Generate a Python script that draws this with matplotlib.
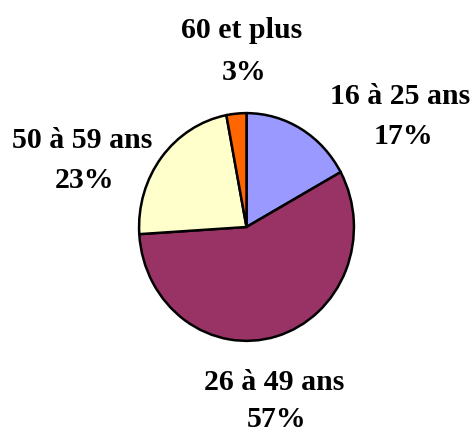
import matplotlib
matplotlib.use("Agg")
import matplotlib.pyplot as plt

# Data
labels = ["16 à 25 ans", "26 à 49 ans", "50 à 59 ans", "60 et plus"]
values = [17, 57, 23, 3]
colors = ["#9999FF", "#993366", "#FFFFCC", "#FF6600"]

W, H = 476, 439
fig = plt.figure(figsize=(W / 100, H / 100), dpi=100)
fig.patch.set_facecolor("white")

# pie axes placed in pixel units
px_left, px_right, px_top, px_bottom = 138, 355, 113, 343
ax = fig.add_axes([px_left / W, 1 - px_bottom / H,
                   (px_right - px_left) / W, (px_bottom - px_top) / H])
ax.pie(values, colors=colors, startangle=90, counterclock=False,
       wedgeprops=dict(edgecolor="black", linewidth=1.8))
ax.set_aspect("auto")
ax.set_xlim(-1.01, 1.01)
ax.set_ylim(-1.01, 1.01)
ax.axis("off")

# label centers (pixels, top-left origin) for name line and percent line
label_pos = [((400, 97), (403, 137)),
             ((274, 383), (277, 420)),
             ((82, 140), (84, 181)),
             ((242, 30), (244, 72))]

fs = 21.5
for lab, val, (p1, p2) in zip(labels, values, label_pos):
    fig.text(p1[0] / W, 1 - p1[1] / H, lab, ha="center", va="center",
             fontsize=fs, fontweight="bold", family="Liberation Serif")
    fig.text(p2[0] / W, 1 - p2[1] / H, f"{val}%", ha="center", va="center",
             fontsize=fs, fontweight="bold", family="Liberation Serif")

fig.savefig("out.png", dpi=100)
